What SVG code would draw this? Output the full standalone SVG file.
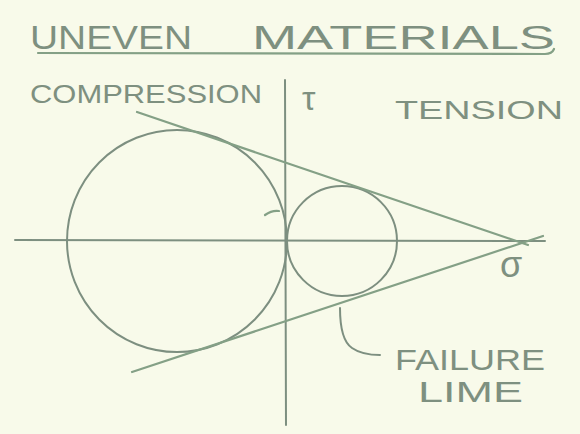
<svg xmlns="http://www.w3.org/2000/svg" width="580" height="434" viewBox="0 0 580 434">
<style>
.ln{fill:none;stroke:#84a086;stroke-width:2.2;stroke-linecap:round}
.ax{fill:none;stroke:#7d8f80;stroke-width:2;stroke-linecap:round}
.t{font-family:"Liberation Sans",Arial,sans-serif;fill:#7e9080;font-weight:normal}
</style>
<rect width="580" height="434" fill="#f8faea"/>
<g id="title">
<text class="t" x="30" y="49" font-size="34" textLength="162" lengthAdjust="spacingAndGlyphs">UNEVEN</text>
<text class="t" x="252" y="49" font-size="34" textLength="303" lengthAdjust="spacingAndGlyphs">MATERIALS</text>
<path class="ln" d="M38 53 L545 54 Q552 54 554 49"/>
</g>
<g id="axes">
<line class="ax" x1="15" y1="240" x2="545" y2="241"/>
<line class="ax" x1="285" y1="80" x2="286" y2="425"/>
</g>
<g id="circles">
<ellipse id="big-circle" class="ax" cx="177" cy="241" rx="110" ry="111"/>
<circle id="small-circle" class="ax" cx="342" cy="241" r="55"/>
<path class="ln" d="M265 215 Q272 210 279 211" stroke-width="1.5"/>
</g>
<g id="connectors">
<line class="ln" x1="137" y1="112" x2="528" y2="245"/>
<line class="ln" x1="132" y1="372" x2="543" y2="236"/>
<path class="ax" d="M340 308 Q340 340 352 348 Q362 355 380 355"/>
</g>
<g id="labels">
<text class="t" x="30" y="103" font-size="26" textLength="232" lengthAdjust="spacingAndGlyphs">COMPRESSION</text>
<text class="t" x="302" y="110" font-size="34" font-family="DejaVu Sans">τ</text>
<text class="t" x="395" y="119" font-size="26" textLength="168" lengthAdjust="spacingAndGlyphs">TENSION</text>
<text class="t" x="500" y="277" font-size="36" font-family="DejaVu Sans">σ</text>
<text class="t" x="395" y="370" font-size="30" textLength="150" lengthAdjust="spacingAndGlyphs">FAILURE</text>
<text class="t" x="418" y="402" font-size="30" textLength="105" lengthAdjust="spacingAndGlyphs">LIME</text>
</g>
</svg>
